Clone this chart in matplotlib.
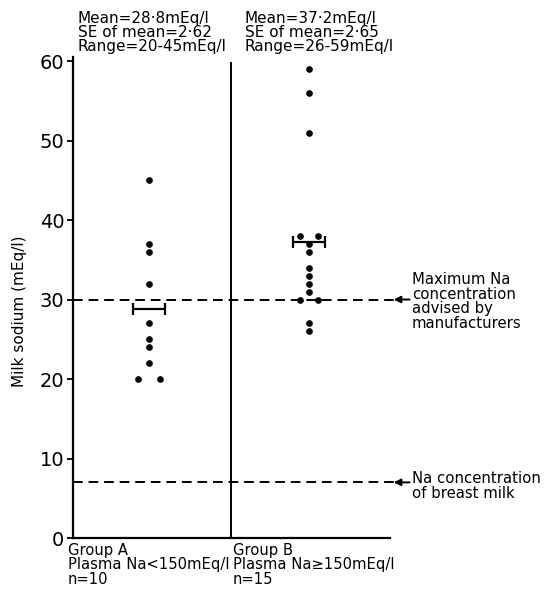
import numpy as np
import matplotlib
matplotlib.use("Agg")
import matplotlib.pyplot as plt

plt.rcParams['font.family'] = ['DejaVu Sans']

# milk sodium values (mEq/l)
group_a = [45, 37, 36, 32, 27, 25, 24, 22, 20, 20]
group_b = [59, 56, 51, 38, 38, 37, 36, 34, 33, 32, 31, 30, 30, 27, 26]
mean_a = 28.8
mean_b = 37.2
max_manufacturer = 30
breast_milk = 7

header_a = "Mean=28·8mEq/l\nSE of mean=2·62\nRange=20-45mEq/l"
header_b = "Mean=37·2mEq/l\nSE of mean=2·65\nRange=26-59mEq/l"
footer_a = "Group A\nPlasma Na<150mEq/l\nn=10"
footer_b = "Group B\nPlasma Na≥150mEq/l\nn=15"
yticks = [0, 10, 20, 30, 40, 50, 60]

pos_a, pos_b = 0.48, 1.49


def spread(values, center, step=0.068):
    # put repeated values side by side
    xs = []
    for v in values:
        n = values.count(v)
        if n == 1:
            xs.append(center)
        else:
            k = sum(1 for x, w in zip(xs, values) if w == v)
            xs.append(center + (k - (n - 1) / 2) * 2 * step / max(n - 1, 1))
    return xs


fig = plt.figure(figsize=(5.45, 5.96), dpi=100)
ax = fig.add_axes([0.1334, 0.0973, 0.582, 0.807])
ax.set_xlim(0, 2)
ax.set_ylim(0, 60.5)

for s in ['top', 'right']:
    ax.spines[s].set_visible(False)
for s in ['left', 'bottom']:
    ax.spines[s].set_linewidth(1.6)

ax.set_xticks([])
ax.set_yticks(yticks)
ax.tick_params(axis='y', length=4, width=1.3, labelsize=14, pad=2)

# divider between groups
ax.plot([1, 1], [0, 59.8], color='black', lw=1.4)

# points
ax.plot(spread(group_a, pos_a), group_a, 'o', color='black', ms=3.8)
ax.plot(spread(group_b, pos_b, 0.055), group_b, 'o', color='black', ms=3.8)

# means
for x, m in [(pos_a, mean_a), (pos_b, mean_b)]:
    ax.errorbar(x, m, xerr=0.1, fmt='none', ecolor='black', elinewidth=1.6,
                capsize=4.3, capthick=1.6)

# reference lines with arrows
for y in [max_manufacturer, breast_milk]:
    ax.plot([0, 1.02], [y, y], color='black', lw=1.4, ls=(0, (5, 3)),
            transform=ax.get_yaxis_transform(), clip_on=False)
    ax.annotate('', xy=(1.012, y), xytext=(1.062, y),
                xycoords=ax.get_yaxis_transform(),
                textcoords=ax.get_yaxis_transform(),
                arrowprops=dict(arrowstyle='-|>', color='black', lw=1.4,
                                mutation_scale=10, shrinkA=0, shrinkB=0),
                annotation_clip=False)

ax.text(1.07, 33.4, "Maximum Na\nconcentration\nadvised by\nmanufacturers",
        transform=ax.get_yaxis_transform(), ha='left', va='top',
        fontsize=10.7, linespacing=0.95, clip_on=False)
ax.text(1.07, 8.4, "Na concentration\nof breast milk",
        transform=ax.get_yaxis_transform(), ha='left', va='top',
        fontsize=10.7, linespacing=0.95, clip_on=False)

# headers and footers
ax.text(0.033, 66.3, header_a, ha='left', va='top', fontsize=11,
        linespacing=0.9, clip_on=False)
ax.text(1.085, 66.3, header_b, ha='left', va='top', fontsize=11,
        linespacing=0.9, clip_on=False)
ax.text(-0.03, -0.6, footer_a, ha='left', va='top', fontsize=10.6,
        linespacing=0.95, clip_on=False)
ax.text(1.01, -0.6, footer_b, ha='left', va='top', fontsize=10.6,
        linespacing=0.95, clip_on=False)

fig.text(20 / 545, 1 - 311 / 596, "Milk sodium (mEq/l)", rotation=90,
         ha='center', va='center', fontsize=11)

fig.savefig("out.png", dpi=100)
